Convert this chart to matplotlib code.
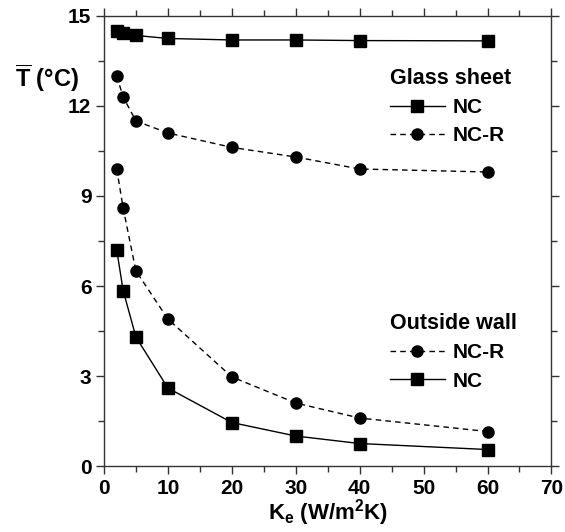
import numpy as np
import matplotlib
matplotlib.use('Agg')
from matplotlib import pyplot as plt

plt.rcParams['font.family'] = ['Liberation Sans', 'DejaVu Sans']
plt.rcParams['font.weight'] = 'bold'
plt.rcParams['mathtext.fontset'] = 'custom'
plt.rcParams['mathtext.rm'] = 'Liberation Sans:bold'
plt.rcParams['mathtext.it'] = 'Liberation Sans:bold'
plt.rcParams['mathtext.bf'] = 'Liberation Sans:bold'

ke = [2, 3, 5, 10, 20, 30, 40, 60]
glass_nc = [14.5, 14.42, 14.35, 14.25, 14.2, 14.2, 14.18, 14.17]
glass_ncr = [13.0, 12.3, 11.5, 11.1, 10.62, 10.3, 9.9, 9.8]
wall_ncr = [9.9, 8.6, 6.5, 4.9, 2.97, 2.1, 1.6, 1.15]
wall_nc = [7.2, 5.85, 4.3, 2.6, 1.45, 1.0, 0.75, 0.55]

fig = plt.figure(figsize=(5.65, 5.32), dpi=100)
ax = fig.add_axes([0.184, 0.124, 0.792, 0.846])

mk = dict(color='black', markersize=8, linewidth=1)
g1, = ax.plot(ke, glass_nc, '-s', label='NC', **mk)
g2, = ax.plot(ke, glass_ncr, '--o', label='NC-R', dashes=(4, 3), **mk)
w1, = ax.plot(ke, wall_ncr, '--o', label='NC-R', dashes=(4, 3), **mk)
w2, = ax.plot(ke, wall_nc, '-s', label='NC', **mk)

ax.set_xlim(0, 70)
ax.set_ylim(0, 15)
ax.set_xticks(np.arange(0, 71, 10))
ax.set_xticks(np.arange(0, 71, 5), minor=True)
ax.set_yticks(np.arange(0, 16, 3))
ax.set_yticks(np.arange(0, 15.1, 1.5), minor=True)
ax.tick_params(which='both', direction='out', top=True, right=True,
               labeltop=False, labelright=False, width=1, color='#333333')
ax.tick_params(which='major', length=6, labelsize=15, pad=3)
ax.tick_params(which='minor', length=4)
for lab in ax.get_xticklabels() + ax.get_yticklabels():
    lab.set_fontweight('bold')
for s in ax.spines.values():
    s.set_linewidth(1)
    s.set_color('#333333')

ax.set_xlabel(r'K$_\mathrm{e}$ (W/m$^\mathrm{2}$K)', fontsize=16, fontweight='bold', labelpad=0)
ax.text(-0.198, 0.862, r'$\overline{\mathrm{T}}$ (°C)', transform=ax.transAxes,
        fontsize=17, fontweight='bold', ha='left', va='center')

leg_kw = dict(loc='upper left', frameon=False, borderaxespad=0, borderpad=0,
              prop={'weight': 'bold', 'size': 15},
              title_fontproperties={'weight': 'bold', 'size': 15.5},
              handlelength=2.6, handletextpad=0.4, labelspacing=0.45)
leg1 = ax.legend(handles=[g1, g2], title='Glass sheet',
                 bbox_to_anchor=(0.64, 0.885), **leg_kw)
leg1._legend_box.align = 'left'
ax.add_artist(leg1)
leg2 = ax.legend(handles=[w1, w2], title='Outside wall',
                 bbox_to_anchor=(0.64, 0.34), **leg_kw)
leg2._legend_box.align = 'left'

fig.savefig('out.png', dpi=100)
